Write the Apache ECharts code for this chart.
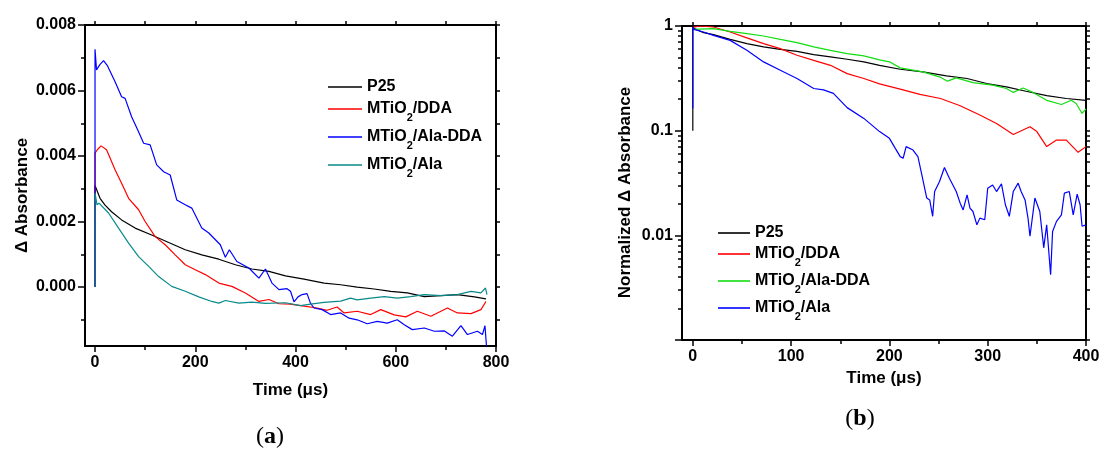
<!DOCTYPE html>
<html>
<head>
<meta charset="utf-8">
<script src="https://cdn.jsdelivr.net/npm/echarts@6/dist/echarts.min.js"></script>
<style>
  html, body { margin: 0; background: #fff; }
  #main { width: 1100px; height: 450px; }
</style>
</head>
<body>
<div id="main"></div>
<script>
// ---- panel (a): Δ Absorbance vs time ----
const timeLabelsA = [0, 200, 400, 600, 800]
const timeMinorA = [100, 300, 500, 700]
const timeTopA = [0, 100, 200, 300, 400, 500, 600, 700, 800]
const absLabelsA = [0, 0.002, 0.004, 0.006, 0.008]
const absMinorA = [-0.001, 0.001, 0.003, 0.005, 0.007]
const absRightA = [-0.001, 0, 0.001, 0.002, 0.003, 0.004, 0.005, 0.006, 0.007, 0.008]

const p25A = [[0, 0], [0, 0.0031], [2, 0.00305], [10, 0.00271], [20, 0.0025], [33, 0.0023], [53, 0.00205], [80, 0.0018], [113, 0.00159], [147, 0.00136], [180, 0.00114], [213, 0.00098], [247, 0.00085], [280, 0.00068], [313, 0.00055], [347, 0.00048], [380, 0.00034], [417, 0.00024], [457, 0.00012], [490, 0.00007], [523, 0], [557, -0.00006], [590, -0.00013], [623, -0.00018], [657, -0.00029], [690, -0.00026], [723, -0.00023], [757, -0.0003], [780, -0.00036]]
const ddaA = [[0, 0], [0, 0.00409], [5, 0.0042], [12, 0.00431], [23, 0.00419], [40, 0.00358], [53, 0.00317], [67, 0.00271], [87, 0.00236], [100, 0.002], [120, 0.00154], [140, 0.00129], [160, 0.00098], [180, 0.00068], [200, 0.00053], [220, 0.00038], [247, 0.00012], [273, 0.00002], [300, -0.00018], [327, -0.00044], [347, -0.00038], [367, -0.00051], [390, -0.00052], [417, -0.00058], [443, -0.00064], [463, -0.00071], [483, -0.00061], [497, -0.00079], [523, -0.00074], [550, -0.00084], [570, -0.00069], [597, -0.00085], [620, -0.00091], [643, -0.00074], [670, -0.00089], [703, -0.00064], [723, -0.00079], [750, -0.00081], [770, -0.00069], [780, -0.00044]]
const alaDdaA = [[0, 0], [0, 0.00726], [3, 0.00663], [10, 0.0068], [17, 0.00691], [25, 0.00675], [40, 0.00627], [53, 0.00581], [60, 0.00576], [73, 0.0052], [85, 0.0048], [97, 0.00439], [110, 0.00434], [123, 0.00373], [137, 0.00352], [150, 0.00342], [163, 0.00266], [180, 0.00251], [193, 0.00241], [213, 0.0018], [227, 0.00165], [250, 0.00129], [260, 0.00091], [268, 0.00114], [283, 0.00078], [307, 0.00058], [327, 0.00027], [340, 0.00055], [353, 0.00012], [367, -0.00008], [383, -0.00005], [390, -0.00013], [397, -0.00045], [405, -0.0003], [413, -0.00023], [423, -0.0002], [430, -0.0005], [437, -0.00064], [453, -0.00069], [470, -0.00084], [490, -0.00079], [507, -0.00095], [523, -0.001], [543, -0.00112], [563, -0.00105], [583, -0.0011], [603, -0.001], [617, -0.00115], [633, -0.0013], [657, -0.00125], [677, -0.00135], [697, -0.00134], [713, -0.0015], [730, -0.00118], [743, -0.00145], [763, -0.00135], [773, -0.00145], [778, -0.00118], [781, -0.0018]]
const alaA = [[0, 0], [0, 0.00287], [4, 0.00251], [8, 0.00256], [27, 0.00226], [47, 0.0018], [67, 0.00134], [87, 0.00093], [107, 0.00063], [127, 0.00032], [153, 0.00002], [180, -0.00013], [207, -0.0003], [233, -0.00044], [247, -0.00049], [260, -0.00041], [287, -0.00049], [313, -0.00046], [340, -0.0005], [380, -0.00048], [410, -0.00057], [430, -0.00052], [457, -0.00047], [490, -0.00043], [510, -0.00034], [523, -0.00039], [550, -0.00034], [577, -0.00029], [603, -0.00034], [630, -0.00029], [657, -0.00023], [690, -0.00026], [723, -0.00023], [750, -0.00013], [770, -0.00018], [779, -0.00003], [782, -0.00023]]

// ---- panel (b): normalized Δ Absorbance (log) vs time ----
const timeLabelsB = [0, 100, 200, 300, 400]
const timeMinorB = [50, 150, 250, 350]
const timeTopB = [0, 50, 100, 150, 200, 250, 300, 350, 400]
const normLabelsB = [0.01, 0.1, 1]
const normMajorB = [0.001, 0.01, 0.1, 1]

const p25B = [[0, 0.1], [0, 1.0], [1, 0.95], [11, 0.863], [21, 0.826], [38, 0.745], [55, 0.678], [72, 0.631], [89, 0.598], [106, 0.573], [123, 0.533], [140, 0.507], [157, 0.481], [174, 0.454], [190, 0.421], [211, 0.386], [234, 0.365], [258, 0.334], [279, 0.315], [299, 0.282], [319, 0.262], [339, 0.238], [360, 0.216], [380, 0.203], [400, 0.195]]
const ddaB = [[0, 0.97], [7, 1.0], [21, 0.978], [38, 0.877], [55, 0.769], [72, 0.678], [89, 0.608], [106, 0.525], [123, 0.47], [140, 0.421], [157, 0.351], [174, 0.315], [190, 0.28], [211, 0.249], [231, 0.222], [252, 0.203], [272, 0.173], [292, 0.141], [309, 0.117], [326, 0.092], [343, 0.109], [350, 0.098], [360, 0.0704], [370, 0.0813], [380, 0.0813], [392, 0.0621], [400, 0.0704]]
const alaDdaB = [[0, 0.93], [21, 0.942], [38, 0.888], [55, 0.845], [72, 0.803], [89, 0.745], [106, 0.693], [123, 0.631], [140, 0.586], [157, 0.545], [174, 0.518], [190, 0.475], [200, 0.455], [211, 0.398], [234, 0.365], [251, 0.327], [259, 0.297], [268, 0.319], [285, 0.288], [305, 0.272], [319, 0.253], [326, 0.232], [336, 0.256], [346, 0.232], [360, 0.195], [375, 0.178], [385, 0.195], [390, 0.182], [396, 0.146], [400, 0.161]]
const alaB = [[0, 0.163], [0, 0.98], [1, 0.93], [11, 0.877], [21, 0.814], [38, 0.729], [55, 0.586], [72, 0.454], [89, 0.378], [106, 0.315], [123, 0.253], [133, 0.245], [143, 0.227], [157, 0.166], [174, 0.131], [190, 0.098], [200, 0.0845], [206, 0.0678], [211, 0.0565], [214, 0.0545], [217, 0.0704], [224, 0.0653], [229, 0.0565], [233, 0.0378], [238, 0.0227], [241, 0.0218], [244, 0.0152], [246, 0.0262], [251, 0.0327], [256, 0.0445], [261, 0.0351], [268, 0.0262], [272, 0.0203], [275, 0.0175], [279, 0.0244], [282, 0.0182], [285, 0.0169], [289, 0.0126], [292, 0.0146], [297, 0.0141], [300, 0.0282], [305, 0.0303], [309, 0.0262], [314, 0.031], [318, 0.0196], [322, 0.0152], [326, 0.0262], [331, 0.0315], [334, 0.0262], [338, 0.0218], [341, 0.0146], [343, 0.0098], [348, 0.0227], [353, 0.0169], [357, 0.0076], [360, 0.0126], [361, 0.0131], [364, 0.0042], [366, 0.0109], [370, 0.0136], [375, 0.0157], [378, 0.0253], [383, 0.0262], [387, 0.0157], [391, 0.0247], [394, 0.0196], [396, 0.0122], [400, 0.0126]]

const SANS = 'Liberation Sans, Arial, sans-serif'
const SERIF = 'Liberation Serif, Times New Roman, serif'
const tickLine = { color: '#000', width: 1.5 }
const frameLine = { show: true, onZero: false, lineStyle: { color: '#000', width: 2 } }
const labelFont = { fontSize: 16, fontWeight: 'bold', color: '#000', fontFamily: SANS }
const nameFont = { fontSize: 17, fontWeight: 'bold', color: '#000', fontFamily: SANS }
// 2..9 minor ticks inside every decade of the log axis
const logMinor = { show: true, splitNumber: 9, length: 4, lineStyle: tickLine }

// axis that only draws a line and/or ticks (minor ticks, frame sides)
function tickAxis(opts, ticks, len) {
  return Object.assign({
    axisLine: { show: false, onZero: false },
    axisLabel: { show: false },
    axisTick: { show: true, customValues: ticks, length: len, lineStyle: tickLine },
    splitLine: { show: false },
    minorSplitLine: { show: false },
    silent: true,
  }, opts)
}

function legendText(name) {
  const label = name.replace('#b', '')
  if (label.indexOf('MTiO2') !== 0) return '{p|' + label + '}'
  return '{m|MTiO}{s|2}{m|' + label.slice(5) + '}'
}

const legendRich = {
  p: { fontSize: 16, fontWeight: 'bold', color: '#000', fontFamily: SANS, lineHeight: 18 },
  m: { fontSize: 16, fontWeight: 'bold', color: '#000', fontFamily: SANS, lineHeight: 28 },
  s: { fontSize: 11, fontWeight: 'bold', color: '#000', fontFamily: SANS, lineHeight: 10, verticalAlign: 'bottom' },
}

function line(name, data, color, xi, yi) {
  return {
    name: name, type: 'line', data: data, xAxisIndex: xi, yAxisIndex: yi,
    symbol: 'none', showSymbol: false,
    lineStyle: { color: color, width: 1.2 }, itemStyle: { color: color },
  }
}

const captionRich = {
  n: { fontFamily: SERIF, fontSize: 24, color: '#000' },
  b: { fontFamily: SERIF, fontSize: 24, fontWeight: 'bold', color: '#000' },
}

const chart = echarts.init(document.getElementById('main'), null, { renderer: 'canvas' })

const option = {
  backgroundColor: '#fff',
  animation: false,
  grid: [
    { left: 85, top: 25, width: 411, height: 321, outerBoundsMode: 'none' },
    { left: 682, top: 26, width: 404, height: 314, outerBoundsMode: 'none' },
  ],
  xAxis: [
    {
      gridIndex: 0, type: 'value', position: 'bottom', min: -20, max: 800,
      axisLine: frameLine,
      axisTick: { customValues: timeLabelsA, length: 6, lineStyle: tickLine },
      axisLabel: Object.assign({ customValues: timeLabelsA, margin: 9 }, labelFont),
      splitLine: { show: false },
      name: 'Time (μs)', nameLocation: 'middle', nameGap: 36, nameTextStyle: nameFont,
    },
    tickAxis({ gridIndex: 0, type: 'value', position: 'bottom', min: -20, max: 800 }, timeMinorA, 4),
    tickAxis({ gridIndex: 0, type: 'value', position: 'top', min: -20, max: 800, axisLine: frameLine }, timeTopA, 4),
    {
      gridIndex: 1, type: 'value', position: 'bottom', min: -11, max: 400,
      axisLine: frameLine,
      axisTick: { customValues: timeLabelsB, length: 6, lineStyle: tickLine },
      axisLabel: Object.assign({ customValues: timeLabelsB, margin: 9 }, labelFont),
      splitLine: { show: false },
      name: 'Time (μs)', nameLocation: 'middle', nameGap: 30, nameTextStyle: nameFont,
    },
    tickAxis({ gridIndex: 1, type: 'value', position: 'bottom', min: -11, max: 400 }, timeMinorB, 4),
    tickAxis({ gridIndex: 1, type: 'value', position: 'top', min: -11, max: 400, axisLine: frameLine }, timeTopB, 4),
  ],
  yAxis: [
    {
      gridIndex: 0, type: 'value', position: 'left', min: -0.0018, max: 0.008,
      axisLine: frameLine,
      axisTick: { customValues: absLabelsA, length: 7, lineStyle: tickLine },
      axisLabel: Object.assign({ customValues: absLabelsA, margin: 9, formatter: v => v.toFixed(3) }, labelFont),
      splitLine: { show: false },
      name: 'Δ Absorbance', nameLocation: 'middle', nameGap: 54,
      nameTextStyle: Object.assign({ padding: [0, 20, 0, 0] }, nameFont),
    },
    tickAxis({ gridIndex: 0, type: 'value', position: 'left', min: -0.0018, max: 0.008 }, absMinorA, 4),
    tickAxis({ gridIndex: 0, type: 'value', position: 'right', min: -0.0018, max: 0.008, axisLine: frameLine }, absRightA, 4),
    {
      gridIndex: 1, type: 'log', logBase: 10, position: 'left', min: 0.001, max: 1,
      axisLine: frameLine,
      axisTick: { show: true, length: 7, lineStyle: tickLine },
      minorTick: logMinor,
      axisLabel: Object.assign({ customValues: normLabelsB, margin: 9, formatter: v => String(v) }, labelFont),
      splitLine: { show: false },
      minorSplitLine: { show: false },
      name: 'Normalized Δ Absorbance', nameLocation: 'middle', nameGap: 48,
      nameTextStyle: Object.assign({ padding: [0, 19, 0, 0] }, nameFont),
    },
    {
      gridIndex: 1, type: 'log', logBase: 10, position: 'right', min: 0.001, max: 1,
      axisLine: frameLine,
      axisTick: { show: true, length: 4, lineStyle: tickLine },
      minorTick: logMinor,
      axisLabel: { show: false },
      splitLine: { show: false },
      minorSplitLine: { show: false },
      silent: true,
    },
  ],
  legend: [
    {
      data: ['P25', 'MTiO2/DDA', 'MTiO2/Ala-DDA', 'MTiO2/Ala'],
      orient: 'vertical', left: 328, top: 79, padding: 0, itemGap: 6,
      icon: 'rect', itemWidth: 34, itemHeight: 1.6, selectedMode: false,
      formatter: legendText, textStyle: { rich: legendRich },
    },
    {
      data: ['P25#b', 'MTiO2/DDA#b', 'MTiO2/Ala-DDA#b', 'MTiO2/Ala#b'],
      orient: 'vertical', left: 718, top: 225, padding: 0, itemGap: 5,
      icon: 'rect', itemWidth: 32, itemHeight: 1.6, selectedMode: false,
      formatter: legendText, textStyle: { rich: legendRich },
    },
  ],
  series: [
    line('P25', p25A, '#000000', 0, 0),
    line('MTiO2/DDA', ddaA, '#ff0000', 0, 0),
    line('MTiO2/Ala-DDA', alaDdaA, '#0000ff', 0, 0),
    line('MTiO2/Ala', alaA, '#088a8a', 0, 0),
    line('P25#b', p25B, '#000000', 3, 3),
    line('MTiO2/DDA#b', ddaB, '#ff0000', 3, 3),
    line('MTiO2/Ala-DDA#b', alaDdaB, '#11dd11', 3, 3),
    line('MTiO2/Ala#b', alaB, '#0000ff', 3, 3),
  ],
  graphic: [
    { type: 'text', x: 270, y: 437, style: { text: '{n|(}{b|a}{n|)}', align: 'center', verticalAlign: 'middle', rich: captionRich } },
    { type: 'text', x: 860, y: 419, style: { text: '{n|(}{b|b}{n|)}', align: 'center', verticalAlign: 'middle', rich: captionRich } },
  ],
}

chart.setOption(option)
window.addEventListener('resize', function () {
  chart.resize()
})
</script>
</body>
</html>
